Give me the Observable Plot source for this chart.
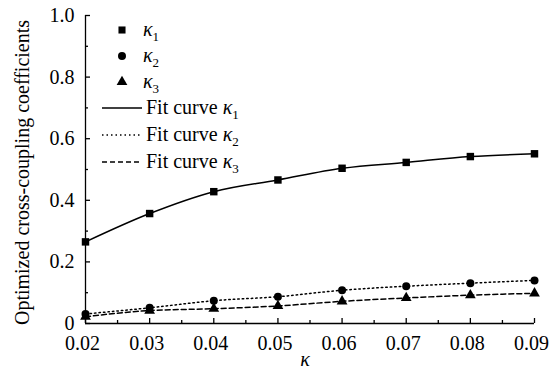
<!DOCTYPE html>
<html><head><meta charset="utf-8">
<script src="https://cdn.jsdelivr.net/npm/d3@7"></script>
<script src="https://cdn.jsdelivr.net/npm/@observablehq/plot@0.6"></script>
<style>
body{margin:0;background:#fff;}
#fig{position:relative;width:551px;height:373px;font-family:"Liberation Serif","Times New Roman",serif;color:#000;}
#legend{position:absolute;left:0;top:0;width:551px;height:373px;pointer-events:none;}
.row{position:absolute;font-size:20px;line-height:20px;white-space:nowrap;}
.row i{font-style:italic;}
.row sub{font-size:13px;vertical-align:-5px;line-height:0;}
</style></head><body><div id="fig"></div>
<script>
const kappa = [0.02, 0.03, 0.04, 0.05, 0.06, 0.07, 0.08, 0.09];
const k1 = [0.265, 0.357, 0.428, 0.466, 0.504, 0.523, 0.542, 0.551];
const k2 = [0.031, 0.051, 0.074, 0.087, 0.108, 0.121, 0.131, 0.140];
const k3 = [0.022, 0.042, 0.048, 0.057, 0.072, 0.083, 0.092, 0.098];
const xTicks = [0.02, 0.03, 0.04, 0.05, 0.06, 0.07, 0.08, 0.09];
const xTickLabels = ["0.02", "0.03", "0.04", "0.05", "0.06", "0.07", "0.08", "0.09"];
const xMinorTicks = [0.025, 0.035, 0.045, 0.055, 0.065, 0.075, 0.085];
const yTicks = [0, 0.2, 0.4, 0.6, 0.8, 1.0];
const yTickLabels = ["0", "0.2", "0.4", "0.6", "0.8", "1.0"];
const yMinorTicks = [0.1, 0.3, 0.5, 0.7, 0.9];

const s1 = kappa.map((k, i) => ({k, v: k1[i]}));
const s2 = kappa.map((k, i) => ({k, v: k2[i]}));
const s3 = kappa.map((k, i) => ({k, v: k3[i]}));

const FF = "Liberation Serif";
const chart = Plot.plot({
  width: 551, height: 373,
  marginLeft: 85, marginRight: 17, marginTop: 15, marginBottom: 50,
  style: "font-family: 'Liberation Serif', serif; font-size: 20px; color: #000; background: #fff;",
  x: {domain: [0.02, 0.09]},
  y: {domain: [0, 1]},
  marks: [
    Plot.axisX({ticks: xTicks, tickSize: 0, tickPadding: 12, dx: -3, tickFormat: d => xTickLabels[xTicks.indexOf(d)], label: null, fontFamily: FF, fontSize: 20, fill: "#000"}),
    Plot.axisX({ticks: xTicks, tickSize: -5, text: null, label: null, strokeWidth: 1.3}),
    Plot.axisX({ticks: xMinorTicks, tickSize: -3, text: null, label: null, strokeWidth: 1.3}),
    Plot.axisY({ticks: yTicks, tickFormat: d => yTickLabels[yTicks.indexOf(d)], tickSize: -5, tickPadding: 16, label: null, strokeWidth: 1.3, fontFamily: FF, fontSize: 20, fill: "#000"}),
    Plot.axisY({ticks: yMinorTicks, tickSize: -3, text: null, label: null, strokeWidth: 1.3}),
    Plot.ruleX([0.02], {strokeWidth: 1.3}),
    Plot.ruleY([0], {strokeWidth: 1.3}),
    Plot.line(s1, {x: "k", y: "v", curve: "monotone-x", stroke: "#000", strokeWidth: 1.5}),
    Plot.line(s2, {x: "k", y: "v", curve: "monotone-x", stroke: "#000", strokeWidth: 1.5, strokeDasharray: "1.5,3"}),
    Plot.line(s3, {x: "k", y: "v", curve: "monotone-x", stroke: "#000", strokeWidth: 1.5, strokeDasharray: "5,3"}),
    Plot.dot(s1, {x: "k", y: "v", symbol: "square", fill: "#000", r: 4.2}),
    Plot.dot(s2, {x: "k", y: "v", symbol: "circle", fill: "#000", r: 4}),
    Plot.dot(s3, {x: "k", y: "v", symbol: "triangle", fill: "#000", r: 4}),
    Plot.text(["κ"], {frameAnchor: "bottom", dy: 36, dx: -5, fontStyle: "italic", fontSize: 20, fontFamily: FF, lineAnchor: "middle"}),
    Plot.text(["Optimized cross-coupling coefficients"], {frameAnchor: "left", dx: -63, dy: 3, rotate: -90, fontSize: 20, fontFamily: FF, textAnchor: "middle", lineAnchor: "middle"})
  ]
});
const fig = document.getElementById("fig");
fig.appendChild(chart);

// Legend overlay
const legend = document.createElement("div");
legend.id = "legend";
const entries = [
  {sym: d3.symbolSquare, size: 50, y: 30, text: '<i>κ</i><sub>1</sub>', tx: 143},
  {sym: d3.symbolCircle, size: 50, y: 56, text: '<i>κ</i><sub>2</sub>', tx: 143},
  {sym: d3.symbolTriangle, size: 50, y: 82, text: '<i>κ</i><sub>3</sub>', tx: 143},
  {dash: null, y: 108, text: 'Fit curve <i>κ</i><sub>1</sub>', tx: 146},
  {dash: "1.5,3", y: 135, text: 'Fit curve <i>κ</i><sub>2</sub>', tx: 146},
  {dash: "5,3", y: 162, text: 'Fit curve <i>κ</i><sub>3</sub>', tx: 146}
];
const svgNS = "http://www.w3.org/2000/svg";
const lsvg = document.createElementNS(svgNS, "svg");
lsvg.setAttribute("width", 551); lsvg.setAttribute("height", 373);
lsvg.style.position = "absolute"; lsvg.style.left = "0"; lsvg.style.top = "0";
entries.forEach(e => {
  if (e.sym) {
    const p = document.createElementNS(svgNS, "path");
    p.setAttribute("d", d3.symbol(e.sym, e.size)());
    p.setAttribute("transform", `translate(122,${e.y})`);
    p.setAttribute("fill", "#000");
    lsvg.appendChild(p);
  } else {
    const l = document.createElementNS(svgNS, "line");
    l.setAttribute("x1", 102); l.setAttribute("x2", 142);
    l.setAttribute("y1", e.y); l.setAttribute("y2", e.y);
    l.setAttribute("stroke", "#000"); l.setAttribute("stroke-width", 1.5);
    if (e.dash) l.setAttribute("stroke-dasharray", e.dash);
    lsvg.appendChild(l);
  }
  const r = document.createElement("div");
  r.className = "row";
  r.style.left = e.tx + "px";
  r.style.top = (e.y - 11) + "px";
  r.innerHTML = e.text;
  legend.appendChild(r);
});
legend.appendChild(lsvg);
fig.appendChild(legend);
</script>
</body></html>
